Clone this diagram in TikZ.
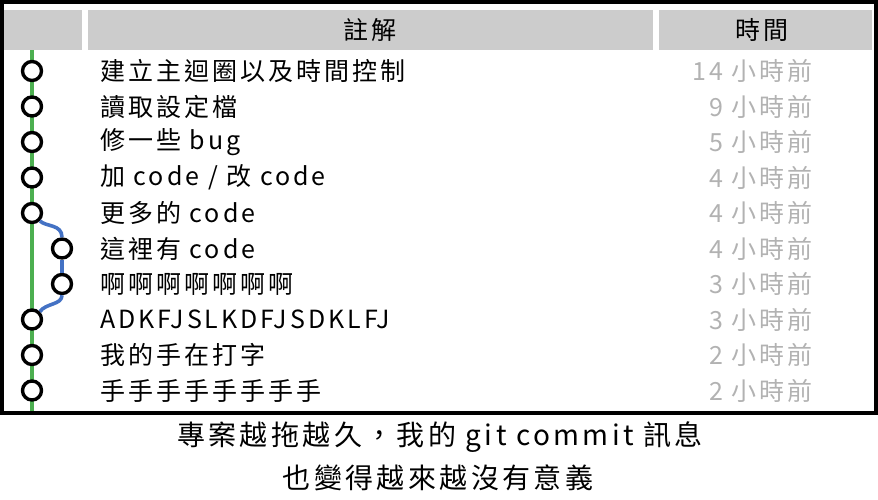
\documentclass[tikz,border=0pt]{standalone}
\usepackage{fontspec}
\setmainfont[LetterSpace=12]{Noto Sans CJK TC}
\usetikzlibrary{backgrounds}
\definecolor{headgray}{RGB}{204,204,204}
\definecolor{timegray}{RGB}{178,178,178}
\definecolor{trunkgreen}{RGB}{76,175,80}
\definecolor{branchblue}{RGB}{68,114,196}

\begin{document}
\begin{tikzpicture}[x=1pt, y=-1pt,
      every node/.style={font=\fontsize{25}{30}\selectfont},
      commit/.style={draw, circle, fill=white, line width=3.4pt, minimum size=19pt, inner sep=0pt},
      msg/.style={anchor=west, inner sep=0pt},
      ago/.style={anchor=east, inner sep=0pt, text=timegray},
      headbar/.style={fill=headgray, draw=none},
      caption/.style={font=\fontsize{28}{33}\selectfont},
      trunk/.style={draw=trunkgreen, line width=3.6pt},
      branch/.style={draw=branchblue, line width=3.6pt}
  ]
    \useasboundingbox (0,0) rectangle (878,500);
    % header
    \fill[headbar] (4,10) rectangle (82,50);
    \fill[headbar] (88,10) rectangle (653,50);
    \fill[headbar] (659,10) rectangle (872,50);
    \node (hdmsg) at (370,30) {註解};
    \node (hdtime) at (762,30) {時間};
    % commits
    \node[commit] (c1) at (32,71) {};
    \node[commit] (c2) at (32,106.5) {};
    \node[commit] (c3) at (32,142) {};
    \node[commit] (c4) at (32,177.5) {};
    \node[commit] (c5) at (32,213) {};
    \node[commit] (b6) at (62,248.5) {};
    \node[commit] (b7) at (62,284) {};
    \node[commit] (c8) at (32,319.5) {};
    \node[commit] (c9) at (32,355) {};
    \node[commit] (c10) at (32,390.5) {};
    \coordinate (gtop) at (32,50);
    \coordinate (gbot) at (32,412);
    \begin{scope}[on background layer]
      \draw[trunk] (gtop) -- (gbot);
    \end{scope}
    \draw[branch] (c5.south east) .. controls (46,227) and (62,224) .. (b6.north);
    \draw[branch] (b6) -- (b7);
    \draw[branch] (b7.south) .. controls (62,305) and (46,303) .. (c8.north east);
    % messages
    \node[msg] (m1) at (100,71) {建立主迴圈以及時間控制};
    \node[msg] (m2) at (100,106.5) {讀取設定檔};
    \node[msg] (m3) at (100,142) {修一些 bug};
    \node[msg] (m4) at (100,177.5) {加 code / 改 code};
    \node[msg] (m5) at (100,213) {更多的 code};
    \node[msg] (m6) at (100,248.5) {這裡有 code};
    \node[msg] (m7) at (100,284) {啊啊啊啊啊啊啊};
    \node[msg] (m8) at (100,319.5) {ADKFJSLKDFJSDKLFJ};
    \node[msg] (m9) at (100,355) {我的手在打字};
    \node[msg] (m10) at (100,390.5) {手手手手手手手手};
    % times
    \node[ago] (t1) at (813,71) {14 小時前};
    \node[ago] (t2) at (813,106.5) {9 小時前};
    \node[ago] (t3) at (813,142) {5 小時前};
    \node[ago] (t4) at (813,177.5) {4 小時前};
    \node[ago] (t5) at (813,213) {4 小時前};
    \node[ago] (t6) at (813,248.5) {4 小時前};
    \node[ago] (t7) at (813,284) {3 小時前};
    \node[ago] (t8) at (813,319.5) {3 小時前};
    \node[ago] (t9) at (813,355) {2 小時前};
    \node[ago] (t10) at (813,390.5) {2 小時前};
    % frame and caption
    \draw[line width=3.5pt] (2,2) rectangle (876,413);
    \node[caption] (cap1) at (440,437) {專案越拖越久，我的 git commit 訊息};
    \node[caption] (cap2) at (438,478) {也變得越來越沒有意義};
  \end{tikzpicture}
\end{document}
